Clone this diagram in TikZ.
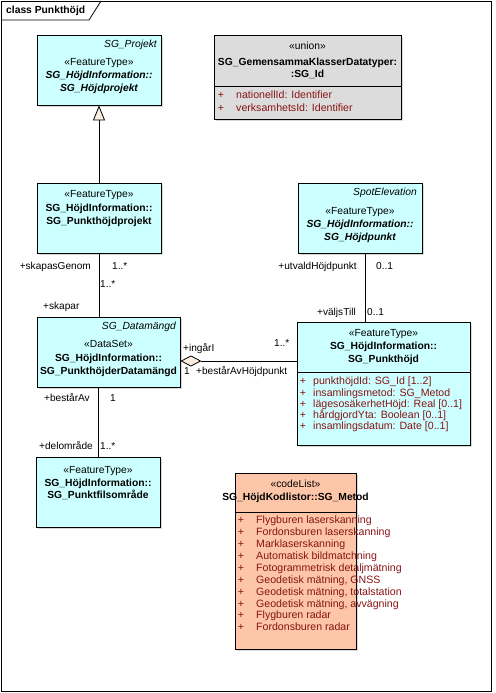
\documentclass[tikz,border=0pt]{standalone}
\usepackage{fontspec}
\setmainfont{Liberation Sans}
\usetikzlibrary{arrows.meta,shadows}

\definecolor{featurecyan}{RGB}{204,255,255}
\definecolor{uniongrey}{RGB}{220,220,220}
\definecolor{codesalmon}{RGB}{253,198,168}
\definecolor{attrred}{RGB}{135,20,20}
\definecolor{tipfill}{RGB}{250,238,222}

\tikzset{
  umlbox/.style={draw=black, line width=0.8pt, inner sep=0pt,
    general shadow={shadow xshift=2pt, shadow yshift=-2pt, fill=black, opacity=0.15}},
  featurebox/.style={umlbox, fill=featurecyan},
  unionbox/.style={umlbox, fill=uniongrey},
  codebox/.style={umlbox, fill=codesalmon},
  txt/.style={inner sep=0pt, text height=7.5pt, text depth=2pt, anchor=center},
  attr/.style={txt, text=attrred, font=\fontsize{10.6}{12}\selectfont},
  role/.style={txt, font=\fontsize{10.1}{12}\selectfont},
  assoc/.style={draw=black, line width=0.8pt},
}

\begin{document}
\begin{tikzpicture}[x=1pt, y=-1pt, font=\fontsize{10.3}{12}\selectfont]
\useasboundingbox (0,0) rectangle (495,693);

% frame
\draw[line width=0.8pt] (1,1) rectangle (491,691);
\draw[line width=0.8pt] (1,20) -- (89,20) -- (101,1);
\node[txt, anchor=west] (title) at (6,11) {\bfseries class Punkthöjd};

% boxes
\node[featurebox, minimum width=124pt, minimum height=70pt] (projekt) at (99,70) {};
\node[unionbox, minimum width=187pt, minimum height=84pt] (gemid) at (307.5,77) {};
\node[featurebox, minimum width=124pt, minimum height=70pt] (punktprojekt) at (99,218) {};
\node[featurebox, minimum width=124pt, minimum height=70pt] (hojdpunkt) at (360,218) {};
\node[featurebox, minimum width=143pt, minimum height=70pt] (datamangd) at (108.5,352) {};
\node[featurebox, minimum width=173pt, minimum height=123pt] (punkthojd) at (383.5,383.5) {};
\node[featurebox, minimum width=124pt, minimum height=70pt] (punktfils) at (98,492) {};
\node[codebox, minimum width=121pt, minimum height=176pt] (metod) at (295.5,561) {};

% compartments
\draw[line width=0.8pt] (gemid.west |- 0,86) -- (gemid.east |- 0,86);
\draw[line width=0.8pt] (punkthojd.west |- 0,372) -- (punkthojd.east |- 0,372);
\draw[line width=0.8pt] (metod.west |- 0,512) -- (metod.east |- 0,512);

% SG_Projekt
\node[txt, anchor=east] (projekt-t0) at (157,45) {\itshape SG\_Projekt};
\node[txt] (projekt-t1) at (99,63) {«FeatureType»};
\node[txt] (projekt-t2) at (99,76) {\bfseries\itshape SG\_HöjdInformation::};
\node[txt] (projekt-t3) at (99,89) {\bfseries\itshape SG\_Höjdprojekt};

% SG_Id
\node[txt] (gemid-t1) at (307.5,47) {«union»};
\node[txt] (gemid-t2) at (307.5,62.5) {\bfseries SG\_GemensammaKlasserDatatyper:};
\node[txt] (gemid-t3) at (307.5,75) {\bfseries :SG\_Id};
\node[attr] (gemid-p1) at (221,96) {+};
\node[attr, anchor=west] (gemid-a1) at (236,96) {nationellId: Identifier};
\node[attr] (gemid-p2) at (221,109) {+};
\node[attr, anchor=west] (gemid-a2) at (236,109) {verksamhetsId: Identifier};

% SG_Punkthöjdprojekt
\node[txt] (punktprojekt-t1) at (99,195) {«FeatureType»};
\node[txt] (punktprojekt-t2) at (99,209) {\bfseries SG\_HöjdInformation::};
\node[txt] (punktprojekt-t3) at (99,222) {\bfseries SG\_Punkthöjdprojekt};

% SG_Höjdpunkt
\node[txt, anchor=east] (hojdpunkt-t0) at (417,193) {\itshape SpotElevation};
\node[txt] (hojdpunkt-t1) at (360,212) {«FeatureType»};
\node[txt] (hojdpunkt-t2) at (360,225) {\bfseries\itshape SG\_HöjdInformation::};
\node[txt] (hojdpunkt-t3) at (360,238) {\bfseries\itshape SG\_Höjdpunkt};

% SG_PunkthöjderDatamängd
\node[txt, anchor=east] (datamangd-t0) at (176,327) {\itshape SG\_Datamängd};
\node[txt] (datamangd-t1) at (108.5,345) {«DataSet»};
\node[txt] (datamangd-t2) at (108.5,359) {\bfseries SG\_HöjdInformation::};
\node[txt] (datamangd-t3) at (108.5,372) {\bfseries SG\_PunkthöjderDatamängd};

% SG_Punkthöjd
\node[txt] (punkthojd-t1) at (383.5,334) {«FeatureType»};
\node[txt] (punkthojd-t2) at (383.5,347) {\bfseries SG\_HöjdInformation::};
\node[txt] (punkthojd-t3) at (383.5,360) {\bfseries SG\_Punkthöjd};
\foreach \i/\a in {0/{punkthöjdId: SG\_Id [1..2]},
                   1/{insamlingsmetod: SG\_Metod},
                   2/{lägesosäkerhetHöjd: Real [0..1]},
                   3/{hårdgjordYta: Boolean [0..1]},
                   4/{insamlingsdatum: Date [0..1]}} {
  \node[attr] (punkthojd-p\i) at (303,382+11.3*\i) {+};
  \node[attr, anchor=west] (punkthojd-a\i) at (313,382+11.3*\i) {\a};
}

% SG_Punktfilsområde
\node[txt] (punktfils-t1) at (98,471) {«FeatureType»};
\node[txt] (punktfils-t2) at (98,483.5) {\bfseries SG\_HöjdInformation::};
\node[txt] (punktfils-t3) at (98,496) {\bfseries SG\_Punktfilsområde};

% SG_Metod
\node[txt] (metod-t1) at (295.5,485) {«codeList»};
\node[txt] (metod-t2) at (295.5,498) {\bfseries SG\_HöjdKodlistor::SG\_Metod};
\foreach \i/\a in {0/Flygburen laserskanning,
                   1/Fordonsburen laserskanning,
                   2/Marklaserskanning,
                   3/Automatisk bildmatchning,
                   4/Fotogrammetrisk detaljmätning,
                   5/{Geodetisk mätning, GNSS},
                   6/{Geodetisk mätning, totalstation},
                   7/{Geodetisk mätning, avvägning},
                   8/Flygburen radar,
                   9/Fordonsburen radar} {
  \node[attr] (metod-p\i) at (241,521+11.9*\i) {+};
  \node[attr, anchor=west] (metod-a\i) at (256,521+11.9*\i) {\a};
}

% connectors
\draw[assoc, -{Triangle[open, length=15pt, width=12pt, fill=tipfill]}] (punktprojekt.north) -- (projekt.south);
\draw[assoc] (punktprojekt.south) -- (punktprojekt.south |- datamangd.north);
\draw[assoc] ([xshift=5pt]hojdpunkt.south) coordinate (utv) -- (utv |- punkthojd.north);
\draw[assoc, {Diamond[open, length=21pt, width=11pt, fill=tipfill]}-] ([yshift=-9pt]datamangd.east) coordinate (agg) -- (agg -| punkthojd.west);
\draw[assoc] (punktfils.north) -- (punktfils.north |- datamangd.south);

% roles
\node[role, anchor=east] (r-skapasgenom) at (91,267) {+skapasGenom};
\node[role, anchor=west] (m-skapasgenom) at (112,267) {1..*};
\node[role, anchor=west] (m-skapar) at (100,285) {1..*};
\node[role, anchor=west] (r-skapar) at (43,307) {+skapar};
\node[role, anchor=east] (r-utvald) at (357,267) {+utvaldHöjdpunkt};
\node[role, anchor=west] (m-utvald) at (376,267) {0..1};
\node[role, anchor=east] (r-valjstill) at (356,313) {+väljsTill};
\node[role, anchor=west] (m-valjstill) at (367,313) {0..1};
\node[role, anchor=west] (r-ingar) at (183,349) {+ingårI};
\node[role, anchor=west] (m-ingar) at (274,344) {1..*};
\node[role, anchor=west] (m-bestar) at (184,372) {1};
\node[role, anchor=west] (r-bestar) at (196,372) {+bestårAvHöjdpunkt};
\node[role, anchor=east] (r-bestarav) at (90,399) {+bestårAv};
\node[role, anchor=west] (m-bestarav) at (110,399) {1};
\node[role, anchor=east] (r-delomrade) at (93,447) {+delområde};
\node[role, anchor=west] (m-delomrade) at (100,447) {1..*};
\end{tikzpicture}
\end{document}
